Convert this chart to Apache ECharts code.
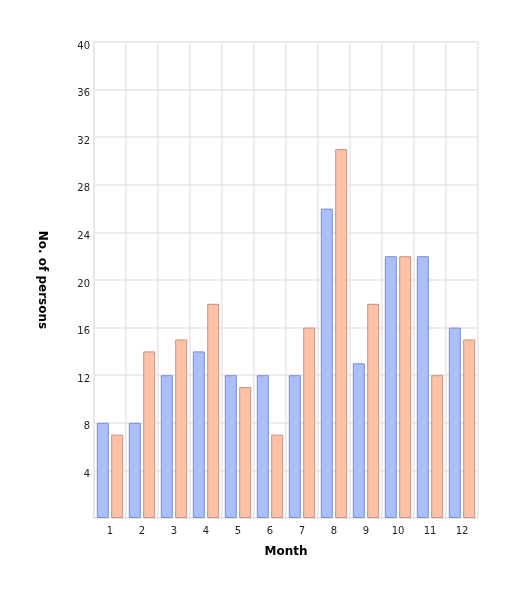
<!DOCTYPE html>
<html lang="en">
<head>
    <meta charset="UTF-8">
    <title>Persons per month</title>
    <script src="https://cdn.jsdelivr.net/npm/echarts@6/dist/echarts.min.js"></script>
    <style>
        html, body { margin: 0; padding: 0; background: #fff; }
        #main { width: 518px; height: 594px; }
    </style>
</head>
<body>
    <div id="main"></div>
    <script>
        // data
        var months = ['1', '2', '3', '4', '5', '6', '7', '8', '9', '10', '11', '12'];
        var seriesA = [8, 8, 12, 14, 12, 12, 12, 26, 13, 22, 22, 16];
        var seriesB = [7, 14, 15, 18, 11, 7, 16, 31, 18, 22, 12, 15];

        var gridColor = '#e6e6e6';
        var myChart = echarts.init(document.getElementById('main'));

        var option = {
            backgroundColor: '#fff',
            textStyle: { fontFamily: 'DejaVu Sans' },
            animation: false,
            grid: { left: 94, right: 40, top: 42, bottom: 76 },
            xAxis: {
                type: 'category',
                data: months,
                name: 'Month',
                nameLocation: 'middle',
                nameGap: 28,
                nameTextStyle: { fontWeight: 'bold', fontSize: 12, color: '#000' },
                axisLine: { show: true, lineStyle: { color: gridColor, width: 1.5 } },
                axisTick: { show: false },
                axisLabel: { color: '#222', fontSize: 10, margin: 8 },
                splitLine: { show: true, lineStyle: { color: gridColor, width: 1.5 } }
            },
            yAxis: {
                type: 'value',
                min: 0,
                max: 40,
                interval: 4,
                name: 'No. of persons',
                nameLocation: 'middle',
                nameRotate: -90,
                nameGap: 46,
                nameTextStyle: { fontWeight: 'bold', fontSize: 12, color: '#000' },
                axisLine: { show: true, lineStyle: { color: gridColor, width: 1.5 } },
                axisTick: { show: false },
                axisLabel: { color: '#222', fontSize: 10, margin: 4, showMinLabel: false, verticalAlign: 'top', padding: [-1, 0, 0, 0] },
                splitLine: { show: true, lineStyle: { color: gridColor, width: 1.5 } }
            },
            series: [{
                type: 'bar',
                data: seriesA,
                barWidth: 12,
                barGap: '20%',
                itemStyle: { color: '#aabfff', borderColor: '#7b8fcf', borderWidth: 1 }
            }, {
                type: 'bar',
                data: seriesB,
                barWidth: 12,
                itemStyle: { color: '#ffc0a8', borderColor: '#c8907f', borderWidth: 1 }
            }]
        };

        myChart.setOption(option);
    </script>
</body>
</html>
